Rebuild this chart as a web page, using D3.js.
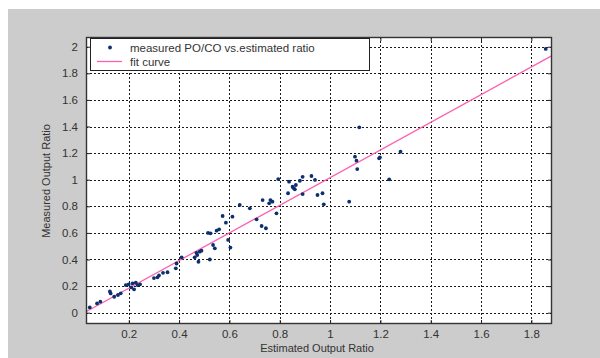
<!DOCTYPE html>
<html lang="en">
<head>
  <meta charset="UTF-8">
  <script src="https://d3js.org/d3.v7.min.js"></script>
  <title>Measured vs Estimated Output Ratio</title>
  <style>
    body {
      margin: 0;
      background: #fff;
      font-family: Arial, "Liberation Sans", sans-serif;
      overflow: hidden;
    }
  </style>
</head>
<body>
<script>
  // measured PO/CO vs estimated ratio
  const estRatio = [
    0.045, 0.074, 0.087, 0.125, 0.128, 0.142, 0.157, 0.168, 0.188, 0.199,
    0.215, 0.228, 0.235, 0.245, 0.221, 0.210, 0.300, 0.314, 0.320, 0.336,
    0.354, 0.387, 0.390, 0.410, 0.462, 0.472, 0.477, 0.482, 0.489, 0.469,
    0.522, 0.515, 0.525, 0.535, 0.542, 0.549, 0.559, 0.573, 0.586, 0.612,
    0.595, 0.604, 0.641, 0.681, 0.708, 0.728, 0.745, 0.732, 0.763, 0.771,
    0.758, 0.787, 0.794, 0.837, 0.833, 0.851, 0.860, 0.864, 0.856, 0.880,
    0.891, 0.891, 0.926, 0.940, 0.950, 0.970, 0.975, 1.076, 1.099, 1.105,
    1.108, 1.116, 1.195, 1.198, 1.280, 1.235, 1.857
  ];
  const measRatio = [
    0.040, 0.070, 0.083, 0.160, 0.145, 0.120, 0.133, 0.146, 0.208, 0.213,
    0.221, 0.226, 0.208, 0.213, 0.176, 0.190, 0.260, 0.266, 0.280, 0.300,
    0.304, 0.334, 0.370, 0.416, 0.416, 0.434, 0.383, 0.459, 0.466, 0.450,
    0.400, 0.600, 0.597, 0.509, 0.484, 0.617, 0.627, 0.727, 0.677, 0.722,
    0.547, 0.490, 0.810, 0.785, 0.702, 0.652, 0.635, 0.847, 0.847, 0.835,
    0.822, 0.747, 1.005, 0.985, 0.898, 0.947, 0.928, 0.960, 0.935, 0.992,
    1.022, 0.892, 1.028, 0.998, 0.885, 0.898, 0.815, 0.835, 1.173, 1.143,
    1.080, 1.394, 1.161, 1.168, 1.210, 1.003, 1.983
  ];

  // linear fit curve: y = slope * x + intercept
  const fitSlope = 1.04;
  const fitIntercept = -0.024;

  const xTicks = [0.2, 0.4, 0.6, 0.8, 1, 1.2, 1.4, 1.6, 1.8];
  const yTicks = [0, 0.2, 0.4, 0.6, 0.8, 1, 1.2, 1.4, 1.6, 1.8, 2];
  const xDomain = [0.03, 1.882];
  const yDomain = [-0.085, 2.073];

  const legendLabels = ["measured PO/CO vs.estimated ratio", "fit curve"];

  const width = 600, height = 358;
  const plot = { left: 86, top: 37, right: 552, bottom: 324 };

  const svg = d3.select("body").append("svg")
    .attr("width", width)
    .attr("height", height);

  // figure background (gray), with white strip top/left like the crop
  svg.append("rect").attr("x", 0).attr("y", 0).attr("width", width).attr("height", height).attr("fill", "#fff");
  svg.append("rect").attr("x", 8).attr("y", 9).attr("width", width - 8).attr("height", height - 9).attr("fill", "#cccccc");

  const x = d3.scaleLinear().domain(xDomain).range([plot.left, plot.right]);
  const y = d3.scaleLinear().domain(yDomain).range([plot.bottom, plot.top]);

  // axes area
  svg.append("rect")
    .attr("x", plot.left).attr("y", plot.top)
    .attr("width", plot.right - plot.left).attr("height", plot.bottom - plot.top)
    .attr("fill", "#fff");

  // grid lines (dotted)
  const grid = svg.append("g");
  grid.selectAll(".gx").data(xTicks).enter().append("line")
    .attr("x1", d => Math.round(x(d)) + 0.5).attr("x2", d => Math.round(x(d)) + 0.5)
    .attr("y1", plot.top).attr("y2", plot.bottom)
    .attr("stroke", "#1a1a1a").attr("stroke-width", 1).attr("stroke-dasharray", "2,2");
  grid.selectAll(".gy").data(yTicks).enter().append("line")
    .attr("y1", d => Math.round(y(d)) + 0.5).attr("y2", d => Math.round(y(d)) + 0.5)
    .attr("x1", plot.left).attr("x2", plot.right)
    .attr("stroke", "#1a1a1a").attr("stroke-width", 1).attr("stroke-dasharray", "2,2");

  // axes with inward ticks on all four sides
  const fmt = d => d3.format("~g")(d);
  const axisStyle = g => {
    g.select(".domain").remove();
    g.selectAll(".tick line").attr("stroke", "#222");
    g.selectAll(".tick text").attr("fill", "#333").style("font-size", "11.5px")
      .style("font-family", "Arial, 'Liberation Sans', sans-serif");
  };
  svg.append("g").attr("transform", `translate(0,${plot.bottom})`)
    .call(d3.axisBottom(x).tickValues(xTicks).tickFormat(fmt).tickSizeInner(-4).tickPadding(6))
    .call(axisStyle);
  svg.append("g").attr("transform", `translate(0,${plot.top})`)
    .call(d3.axisTop(x).tickValues(xTicks).tickFormat("").tickSizeInner(-4))
    .call(axisStyle);
  svg.append("g").attr("transform", `translate(${plot.left},0)`)
    .call(d3.axisLeft(y).tickValues(yTicks).tickFormat(fmt).tickSizeInner(-4).tickPadding(8))
    .call(axisStyle);
  svg.append("g").attr("transform", `translate(${plot.right},0)`)
    .call(d3.axisRight(y).tickValues(yTicks).tickFormat("").tickSizeInner(-4))
    .call(axisStyle);

  // fit curve
  svg.append("line")
    .attr("x1", x(xDomain[0])).attr("y1", y(fitSlope * xDomain[0] + fitIntercept))
    .attr("x2", x(xDomain[1])).attr("y2", y(fitSlope * xDomain[1] + fitIntercept))
    .attr("stroke", "#ff5fae").attr("stroke-width", 1.3);

  // data points
  svg.append("g").selectAll("circle")
    .data(estRatio.map((e, i) => [e, measRatio[i]]))
    .enter().append("circle")
    .attr("cx", d => x(d[0]))
    .attr("cy", d => y(d[1]))
    .attr("r", 1.9)
    .attr("fill", "#0d2f70");

  // box
  svg.append("rect")
    .attr("x", plot.left + 0.5).attr("y", plot.top + 0.5)
    .attr("width", plot.right - plot.left - 1).attr("height", plot.bottom - plot.top - 1)
    .attr("fill", "none").attr("stroke", "#333").attr("stroke-width", 1.4);

  // legend
  const legend = svg.append("g");
  legend.append("rect")
    .attr("x", 90.5).attr("y", 38.5).attr("width", 279).attr("height", 32)
    .attr("fill", "#fff").attr("stroke", "#222").attr("stroke-width", 1);
  legend.append("circle").attr("cx", 110).attr("cy", 47.5).attr("r", 1.9).attr("fill", "#0d2f70");
  legend.append("line").attr("x1", 97).attr("x2", 122).attr("y1", 61.5).attr("y2", 61.5)
    .attr("stroke", "#ff5fae").attr("stroke-width", 1.3);
  legend.selectAll("text").data(legendLabels).enter().append("text")
    .attr("x", 130).attr("y", (d, i) => 51.5 + i * 14)
    .attr("fill", "#333").style("font-size", "11.5px")
    .text(d => d);

  // axis labels
  svg.append("text")
    .attr("x", 317).attr("y", 352)
    .attr("text-anchor", "middle")
    .attr("fill", "#333").style("font-size", "11px")
    .text("Estimated Output Ratio");
  svg.append("text")
    .attr("transform", "translate(50,181) rotate(-90)")
    .attr("text-anchor", "middle")
    .attr("fill", "#333").style("font-size", "11px")
    .text("Measured Output Ratio");
</script>
</body>
</html>
